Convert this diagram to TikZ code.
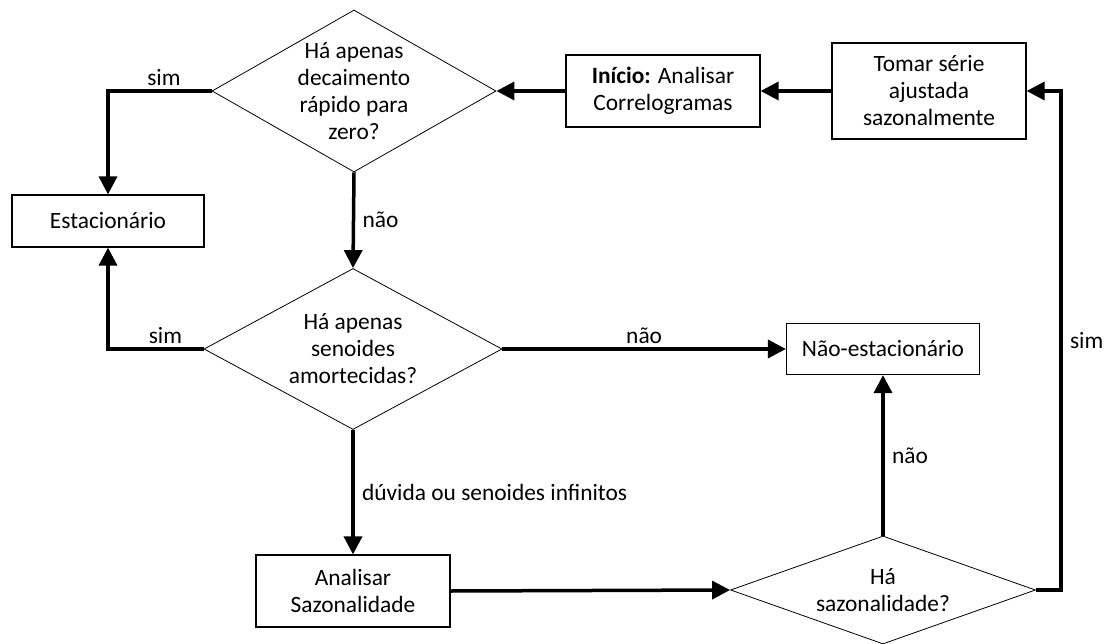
\documentclass[tikz,border=0pt]{standalone}
\usepackage{fontspec}
\setmainfont{Carlito}
\usetikzlibrary{shapes.geometric,arrows.meta}
\begin{document}
\begin{tikzpicture}
[x=1pt,y=-1pt,
 every node/.style={font=\fontsize{23.4}{27}\selectfont},
 boxstyle/.style={draw,line width=1.2pt,align=center,inner sep=0pt},
 askstyle/.style={draw,diamond,line width=0.8pt,align=center,inner sep=-2pt},
 linkstyle/.style={line width=3.5pt,-{Triangle[length=18pt,width=18pt]}}]
\useasboundingbox (0,0) rectangle (1107,644);
%% boxes
\node[boxstyle,minimum width=194,minimum height=72] (inicio) at (663,91)
  {\textbf{Início:} Analisar\\Correlogramas};
\node[boxstyle,minimum width=194,minimum height=96] (tomar) at (929,91)
  {Tomar série\\ajustada\\sazonalmente};
\node[boxstyle,minimum width=192,minimum height=52] (estac) at (108,221) {Estacionário};
\node[boxstyle,minimum width=193,minimum height=51] (naoest) at (883,349) {Não-estacionário};
\node[boxstyle,minimum width=194,minimum height=72] (analisar) at (353,591)
  {Analisar\\Sazonalidade};
%% questions
\node[askstyle,aspect=1.75,minimum width=284,minimum height=162] (decai) at (354,91)
  {Há apenas\\decaimento\\rápido para\\zero?};
\node[askstyle,aspect=1.86,minimum width=298,minimum height=161] (senoide) at (353,349)
  {Há apenas\\senoides\\amortecidas?};
\node[askstyle,aspect=2.8,minimum width=305,minimum height=108] (sazon) at (883,590)
  {Há\\sazonalidade?};
%% connectors
\draw[linkstyle] (tomar) -- (inicio);
\draw[linkstyle] (inicio) -- (decai);
\draw[linkstyle] (decai.west) -| node[pos=0.23,above]{sim} (estac.north);
\draw[linkstyle] (decai.south) -- node[right,xshift=4pt]{não} (senoide.north);
\draw[linkstyle] (senoide.west) -| node[pos=0.2,above]{sim} (estac.south);
\draw[linkstyle] (senoide.east) -- node[above]{não} (naoest.west);
\draw[linkstyle] (senoide.south) -- node[right,xshift=4pt]{dúvida ou senoides infinitos} (analisar.north);
\draw[linkstyle] (analisar.east) -- (sazon.west);
\draw[linkstyle] (sazon.north) -- node[right,xshift=4pt]{não} (naoest.south);
\draw[linkstyle] (sazon.east) -- ++(25,0) |- node[pos=0.25,right,xshift=4pt]{sim} (tomar.east);
\end{tikzpicture}
\end{document}
